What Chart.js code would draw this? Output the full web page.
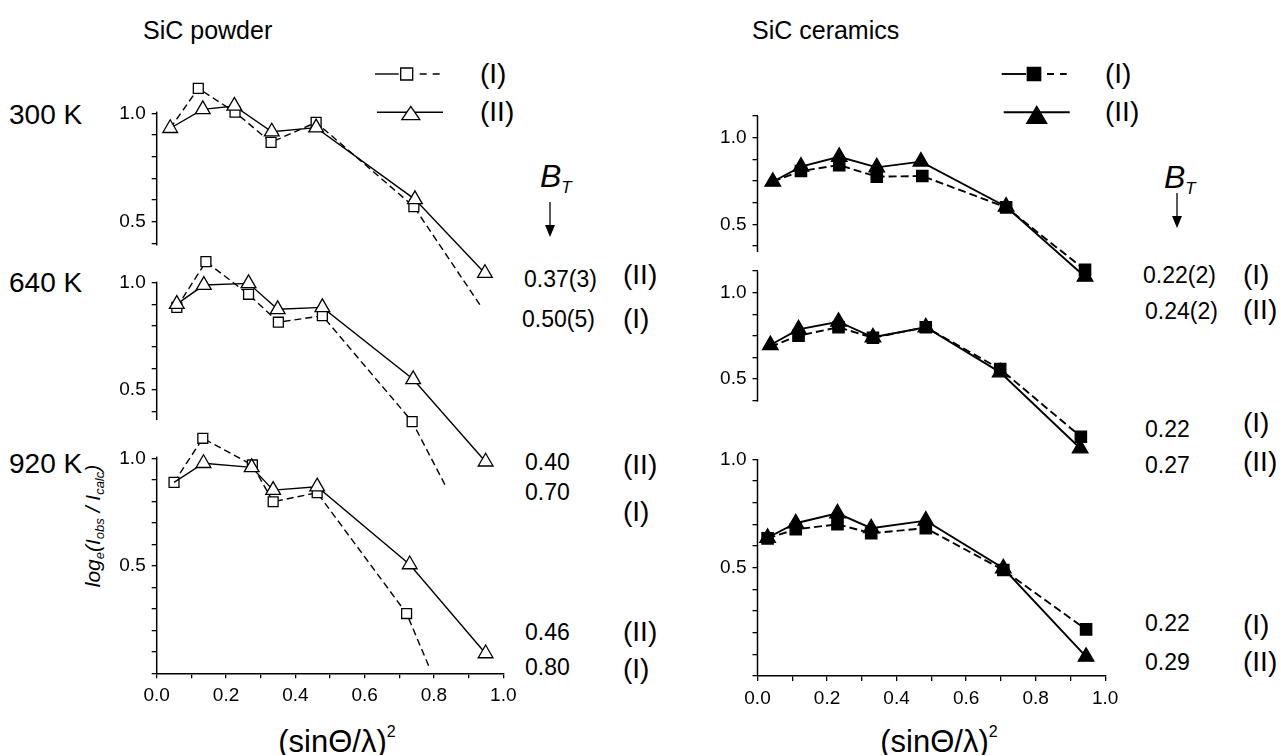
<!DOCTYPE html>
<html>
<head>
<meta charset="utf-8">
<script src="https://cdn.jsdelivr.net/npm/chart.js@4.4.1/dist/chart.umd.min.js"></script>
<style>
  body { margin: 0; background: #fff; }
  #page { position: relative; width: 1280px; height: 755px; overflow: hidden;
          font-family: "Liberation Sans", Arial, sans-serif; color: #000; }
  #page canvas { position: absolute; left: 0; top: 0; }
  .t { position: absolute; white-space: nowrap; line-height: 1; transform: translateY(-50%); }
  .num { font-size: 23px; }
  .rom { font-size: 28px; }
  .temp { font-size: 28px; }
  .head { font-size: 25px; }
  .bt { font-size: 32px; font-style: italic; }
  .bt sub { font-size: 17px; vertical-align: -6px; }
  .xt { position: absolute; font-size: 31px; line-height: 1; transform: translate(-50%, -50%); white-space: nowrap; }
  .xt sup { font-size: 16px; vertical-align: 15px; }
  .yt { position: absolute; font-size: 21px; font-style: italic; line-height: 1; white-space: nowrap;
        transform: translate(-50%, -50%) rotate(-90deg); }
  .yt sub { font-size: 13px; vertical-align: -4px; }
</style>
</head>
<body>
<div id="page">
  <div class="t head" style="left:143px; top:30px;">SiC powder</div>
  <div class="t head" style="left:752px; top:30px;">SiC ceramics</div>

  <div class="t temp" style="left:9px; top:115px;">300 K</div>
  <div class="t temp" style="left:9px; top:283px;">640 K</div>
  <div class="t temp" style="left:9px; top:464px;">920 K</div>

  <div class="t rom" style="left:480px; top:74px;">(I)</div>
  <div class="t rom" style="left:480px; top:112px;">(II)</div>
  <div class="t rom" style="left:1105px; top:74px;">(I)</div>
  <div class="t rom" style="left:1105px; top:112px;">(II)</div>

  <div class="t bt" style="left:540px; top:178px;">B<sub>T</sub></div>
  <div class="t bt" style="left:1164px; top:179px;">B<sub>T</sub></div>

  <div class="t num" style="left:524px; top:279px;">0.37(3)</div>
  <div class="t rom" style="left:623px; top:275px;">(II)</div>
  <div class="t num" style="left:522px; top:319px;">0.50(5)</div>
  <div class="t rom" style="left:623px; top:319px;">(I)</div>
  <div class="t num" style="left:525px; top:462px;">0.40</div>
  <div class="t rom" style="left:623px; top:465px;">(II)</div>
  <div class="t num" style="left:525px; top:492px;">0.70</div>
  <div class="t rom" style="left:623px; top:512px;">(I)</div>
  <div class="t num" style="left:525px; top:632px;">0.46</div>
  <div class="t rom" style="left:623px; top:632px;">(II)</div>
  <div class="t num" style="left:525px; top:667px;">0.80</div>
  <div class="t rom" style="left:623px; top:669px;">(I)</div>

  <div class="t num" style="left:1143px; top:275px;">0.22(2)</div>
  <div class="t rom" style="left:1243px; top:275px;">(I)</div>
  <div class="t num" style="left:1145px; top:311px;">0.24(2)</div>
  <div class="t rom" style="left:1243px; top:310px;">(II)</div>
  <div class="t num" style="left:1145px; top:429px;">0.22</div>
  <div class="t rom" style="left:1243px; top:423px;">(I)</div>
  <div class="t num" style="left:1145px; top:465px;">0.27</div>
  <div class="t rom" style="left:1243px; top:462px;">(II)</div>
  <div class="t num" style="left:1145px; top:623px;">0.22</div>
  <div class="t rom" style="left:1243px; top:625px;">(I)</div>
  <div class="t num" style="left:1145px; top:662px;">0.29</div>
  <div class="t rom" style="left:1243px; top:662px;">(II)</div>

  <div class="yt" style="left:94px; top:526px;">log<sub>e</sub>(I<sub>obs</sub> / I<sub>calc</sub>)</div>
  <div class="xt" style="left:337px; top:740px;">(sinΘ/λ)<sup>2</sup></div>
  <div class="xt" style="left:939px; top:740px;">(sinΘ/λ)<sup>2</sup></div>
</div>

<script>
// ---- data: x = (sin theta / lambda)^2, y = log_e(Iobs/Icalc) ----

// SiC powder
var powder300xI  = [0.039, 0.120, 0.226, 0.330, 0.460, 0.742, 0.933];
var powder300yI  = [0.931, 1.115, 1.005, 0.866, 0.958, 0.569, 0.115];
var powder300xII = [0.039, 0.133, 0.224, 0.332, 0.460, 0.745, 0.947];
var powder300yII = [0.931, 1.018, 1.034, 0.915, 0.934, 0.603, 0.262];

var powder640xI  = [0.058, 0.142, 0.265, 0.351, 0.478, 0.737, 0.832];
var powder640yI  = [0.885, 1.098, 0.946, 0.816, 0.846, 0.353, 0.058];
var powder640xII = [0.058, 0.136, 0.265, 0.349, 0.478, 0.740, 0.949];
var powder640yII = [0.900, 0.989, 0.997, 0.876, 0.885, 0.550, 0.166];

var powder920xI  = [0.050, 0.133, 0.276, 0.336, 0.463, 0.721, 0.788];
var powder920yI  = [0.888, 1.093, 0.969, 0.798, 0.840, 0.278, 0.022];
var powder920xII = [0.050, 0.135, 0.274, 0.336, 0.463, 0.730, 0.949];
var powder920yII = [0.888, 0.977, 0.958, 0.852, 0.868, 0.506, 0.092];

// SiC ceramics
var ceram300xI  = [0.044, 0.125, 0.235, 0.343, 0.474, 0.715, 0.942];
var ceram300yI  = [0.746, 0.808, 0.842, 0.775, 0.779, 0.598, 0.237];
var ceram300xII = [0.044, 0.125, 0.235, 0.343, 0.470, 0.715, 0.942];
var ceram300yII = [0.746, 0.833, 0.890, 0.829, 0.862, 0.602, 0.198];

var ceram640xI  = [0.037, 0.118, 0.233, 0.332, 0.484, 0.698, 0.930];
var ceram640yI  = [0.687, 0.751, 0.800, 0.739, 0.800, 0.558, 0.166];
var ceram640xII = [0.037, 0.118, 0.233, 0.332, 0.484, 0.698, 0.928];
var ceram640yII = [0.697, 0.788, 0.832, 0.742, 0.800, 0.539, 0.099];

var ceram920xI  = [0.029, 0.110, 0.230, 0.327, 0.484, 0.707, 0.945];
var ceram920yI  = [0.635, 0.677, 0.700, 0.659, 0.682, 0.489, 0.215];
var ceram920xII = [0.029, 0.110, 0.230, 0.327, 0.484, 0.707, 0.945];
var ceram920yII = [0.638, 0.705, 0.751, 0.682, 0.717, 0.497, 0.089];

// tick values
var xTicks = [0, 0.1, 0.2, 0.3, 0.4, 0.5, 0.6, 0.7, 0.8, 0.9, 1.0];
var yTicksShort = [0.4, 0.5, 0.6, 0.7, 0.8, 0.9, 1.0];
var yTicksFull = [0, 0.1, 0.2, 0.3, 0.4, 0.5, 0.6, 0.7, 0.8, 0.9, 1.0];
var yTicksCeram = [0.375, 0.5, 0.625, 0.75, 0.875, 1.0, 1.125];
var yTickLabels = [0.5, 1.0];

var FONT = '"Liberation Sans", Arial, sans-serif';

function pts(xs, ys) {
  return xs.map(function (x, i) { return { x: x, y: ys[i] }; });
}

// marker radius per point; hidden points are line ends or markers covered by the other series
function radii(n, r, hidden) {
  var out = [];
  for (var i = 0; i < n; i++) {
    out.push(hidden.indexOf(i) != -1 ? 0 : r);
  }
  return out;
}

function drawSquare(ctx, x, y, s, filled) {
  ctx.beginPath();
  ctx.rect(x - s / 2, y - s / 2, s, s);
  ctx.fillStyle = filled ? '#000' : '#fff';
  ctx.fill();
  ctx.lineWidth = 1.3;
  ctx.setLineDash([]);
  ctx.stroke();
}

function drawTriangle(ctx, x, top, w, h, filled) {
  ctx.beginPath();
  ctx.moveTo(x, top);
  ctx.lineTo(x + w / 2, top + h);
  ctx.lineTo(x - w / 2, top + h);
  ctx.closePath();
  ctx.fillStyle = filled ? '#000' : '#fff';
  ctx.fill();
  ctx.lineWidth = 1.3;
  ctx.setLineDash([]);
  ctx.stroke();
}

function drawArrow(ctx, x, y1, y2) {
  ctx.beginPath();
  ctx.lineWidth = 1.3;
  ctx.setLineDash([]);
  ctx.moveTo(x, y1);
  ctx.lineTo(x, y2 - 8);
  ctx.stroke();
  ctx.beginPath();
  ctx.moveTo(x - 5, y2 - 12);
  ctx.lineTo(x + 5, y2 - 12);
  ctx.lineTo(x, y2);
  ctx.closePath();
  ctx.fillStyle = '#000';
  ctx.fill();
}

// the y axis line only covers part of the value range, so draw it from the scale
function axisPlugin(lo, hi) {
  return {
    id: 'axisLine',
    afterDraw: function (chart) {
      var y = chart.scales.y;
      var ctx = chart.ctx;
      var x = chart.chartArea.left;
      ctx.save();
      ctx.strokeStyle = '#000';
      ctx.lineWidth = 1.5;
      ctx.beginPath();
      ctx.moveTo(x, y.getPixelForValue(hi));
      ctx.lineTo(x, y.getPixelForValue(lo));
      ctx.stroke();
      ctx.restore();
    }
  };
}

// legend keys and B_T arrows, drawn on the top panel of each column
function keyPlugin(k) {
  return {
    id: 'keys',
    afterDraw: function (chart) {
      var ctx = chart.ctx;
      ctx.save();
      ctx.strokeStyle = '#000';
      // dashed key with square
      ctx.lineWidth = k.lw;
      ctx.beginPath();
      ctx.moveTo(k.x1, k.y1);
      ctx.lineTo(k.sq - 8, k.y1);
      ctx.stroke();
      ctx.setLineDash([7, 6]);
      ctx.beginPath();
      ctx.moveTo(k.sq + 13, k.y1);
      ctx.lineTo(k.x2, k.y1);
      ctx.stroke();
      drawSquare(ctx, k.sq, k.y1, k.sqSize, k.filled);
      // solid key with triangle
      ctx.setLineDash([]);
      ctx.lineWidth = k.lw;
      ctx.beginPath();
      ctx.moveTo(k.x1 + 2, k.y2);
      ctx.lineTo(k.x2 + 3, k.y2);
      ctx.stroke();
      drawTriangle(ctx, k.tri, k.y2 - 6, k.triW, k.triH, k.filled);
      drawArrow(ctx, k.arrowX, k.arrowY1, k.arrowY2);
      ctx.restore();
    }
  };
}

function makePanel(p) {
  var canvas = document.createElement('canvas');
  canvas.width = 1280;
  canvas.height = 755;
  document.getElementById('page').appendChild(canvas);

  // place the plot box so that value 1.0 lands on p.y1px with p.k pixels per unit
  var xH = p.showX ? 40 : 0;
  var top = p.y1px - (p.ymax - 1) * p.k;
  var bottom = p.y1px + (1 - p.ymin) * p.k;
  var pad = { left: p.left - 60, right: 1280 - p.right, top: top, bottom: 755 - bottom - xH };

  var lineI = {
    label: '(I)',
    data: pts(p.xI, p.yI),
    borderColor: '#000',
    borderWidth: p.lw,
    borderDash: p.dash,
    pointStyle: 'rect',
    pointRadius: radii(p.xI.length, p.rSq, p.hideI),
    pointBackgroundColor: p.filled ? '#000' : '#fff',
    pointBorderColor: '#000',
    pointBorderWidth: 1.3,
    tension: 0,
    fill: false,
    clip: false,
    order: 2
  };
  var lineII = {
    label: '(II)',
    data: pts(p.xII, p.yII),
    borderColor: '#000',
    borderWidth: p.lw,
    pointStyle: 'triangle',
    pointRadius: radii(p.xII.length, p.rTri, p.hideII),
    pointBackgroundColor: p.filled ? '#000' : '#fff',
    pointBorderColor: '#000',
    pointBorderWidth: 1.3,
    tension: 0,
    fill: false,
    clip: false,
    order: 1
  };

  var plugins = [axisPlugin(p.axisLo, p.axisHi)];
  if (p.keys) plugins.push(keyPlugin(p.keys));

  new Chart(canvas, {
    type: 'line',
    data: { datasets: [lineI, lineII] },
    plugins: plugins,
    options: {
      responsive: false,
      animation: false,
      devicePixelRatio: 1,
      events: [],
      layout: { padding: pad },
      plugins: { legend: { display: false }, tooltip: { enabled: false } },
      scales: {
        x: {
          type: 'linear',
          min: 0,
          max: 1,
          display: p.showX,
          afterFit: function (s) { s.height = xH; },
          afterBuildTicks: function (s) {
            s.ticks = xTicks.map(function (v) { return { value: v }; });
          },
          grid: { drawOnChartArea: false, drawTicks: true, tickLength: 5, color: '#000', lineWidth: 1.3 },
          border: { display: true, color: '#000', width: 1.5 },
          ticks: {
            autoSkip: false,
            maxRotation: 0,
            padding: 6,
            color: '#000',
            font: { family: FONT, size: 19 },
            callback: function (v) {
              return Math.round(v * 10) % 2 == 0 ? v.toFixed(1) : '';
            }
          }
        },
        y: {
          type: 'linear',
          min: p.ymin,
          max: p.ymax,
          afterFit: function (s) { s.width = 60; },
          afterBuildTicks: function (s) {
            s.ticks = p.yTicks.map(function (v) { return { value: v }; });
          },
          grid: { drawOnChartArea: false, drawTicks: true, tickLength: 5, color: '#000', lineWidth: 1.3 },
          border: { display: false },
          ticks: {
            autoSkip: false,
            padding: 6,
            color: '#000',
            font: { family: FONT, size: 19 },
            callback: function (v) {
              for (var i = 0; i < yTickLabels.length; i++) {
                if (Math.abs(v - yTickLabels[i]) < 1e-6) return v.toFixed(1);
              }
              return '';
            }
          }
        }
      }
    }
  });
}

var powderStyle = { lw: 1.4, dash: [7, 4], rSq: 7, rTri: 8.5, filled: false, left: 156.7, right: 503.3 };
var ceramStyle = { lw: 1.9, dash: [8, 4], rSq: 8, rTri: 9, filled: true, left: 757.5, right: 1105.2 };

function panel(style, extra) {
  var p = {};
  for (var k in style) p[k] = style[k];
  for (var k2 in extra) p[k2] = extra[k2];
  makePanel(p);
}

// left column: SiC powder
panel(powderStyle, {
  xI: powder300xI, yI: powder300yI, xII: powder300xII, yII: powder300yII,
  hideI: [0, 6], hideII: [],
  y1px: 113.3, k: 216.7, ymin: 0.05, ymax: 1.2, axisLo: 0.39, axisHi: 1.008,
  yTicks: yTicksShort, showX: false,
  keys: { lw: 1.4, x1: 375, x2: 440, y1: 74, sq: 406.7, sqSize: 12, y2: 112.3, tri: 410.8, triW: 18, triH: 13.3,
          filled: false, arrowX: 550, arrowY1: 202, arrowY2: 237 }
});
panel(powderStyle, {
  xI: powder640xI, yI: powder640yI, xII: powder640xII, yII: powder640yII,
  hideI: [6], hideII: [],
  y1px: 282.7, k: 214.7, ymin: 0, ymax: 1.2, axisLo: 0.36, axisHi: 1.005,
  yTicks: yTicksShort, showX: false
});
panel(powderStyle, {
  xI: powder920xI, yI: powder920yI, xII: powder920xII, yII: powder920yII,
  hideI: [6], hideII: [0],
  y1px: 458.3, k: 215, ymin: 0, ymax: 1.2, axisLo: 0, axisHi: 1.008,
  yTicks: yTicksFull, showX: true
});

// right column: SiC ceramics
panel(ceramStyle, {
  xI: ceram300xI, yI: ceram300yI, xII: ceram300xII, yII: ceram300yII,
  hideI: [0], hideII: [],
  y1px: 137.7, k: 173.3, ymin: 0.1, ymax: 1.2, axisLo: 0.34, axisHi: 1.125,
  yTicks: yTicksCeram, showX: false,
  keys: { lw: 1.9, x1: 1001.7, x2: 1066.7, y1: 74, sq: 1034, sqSize: 13.4, y2: 112.3, tri: 1036.7, triW: 20, triH: 17,
          filled: true, arrowX: 1177, arrowY1: 193, arrowY2: 228 }
});
panel(ceramStyle, {
  xI: ceram640xI, yI: ceram640yI, xII: ceram640xII, yII: ceram640yII,
  hideI: [0], hideII: [],
  y1px: 292.7, k: 172.7, ymin: 0, ymax: 1.2, axisLo: 0.37, axisHi: 1.125,
  yTicks: yTicksCeram, showX: false
});
panel(ceramStyle, {
  xI: ceram920xI, yI: ceram920yI, xII: ceram920xII, yII: ceram920yII,
  hideI: [], hideII: [],
  y1px: 459.3, k: 216.7, ymin: 0, ymax: 1.1, axisLo: 0, axisHi: 1.0,
  yTicks: yTicksFull, showX: true
});
</script>
</body>
</html>
